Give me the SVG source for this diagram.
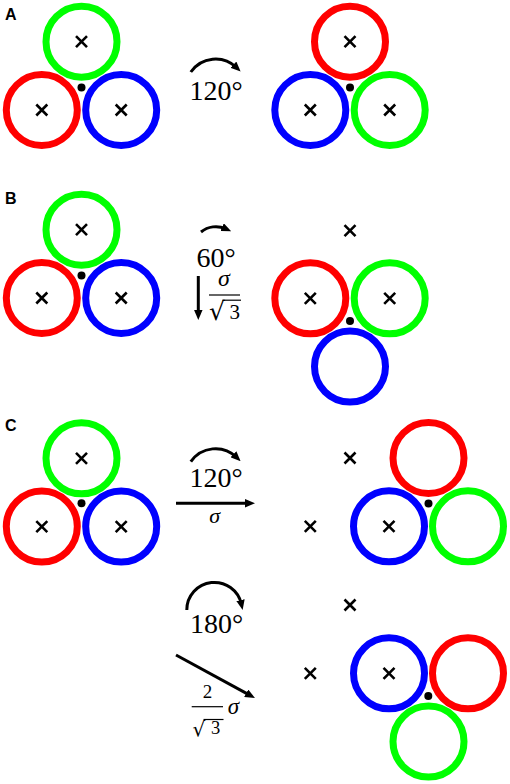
<svg xmlns="http://www.w3.org/2000/svg" xmlns:xlink="http://www.w3.org/1999/xlink" width="510" height="784" viewBox="0 0 510 784">
<style>
.c{fill:none;stroke-width:7}
.r{stroke:#ff0000}.g{stroke:#00ff00}.b{stroke:#0000ff}
.lbl{font-family:"Liberation Sans",Arial,sans-serif;font-weight:bold;font-size:16px;fill:#000}
.m{font-family:"Liberation Serif","Times New Roman",serif;fill:#000}
.rad{font-family:"DejaVu Serif",serif;fill:#000}
.ang{font-size:28px;text-anchor:middle}
.sig{font-style:italic;text-anchor:middle}
.ar{fill:none;stroke:#000;stroke-width:3;marker-end:url(#ah)}
.bar{stroke:#000;stroke-width:1.2}
</style>
<defs>
<marker id="ah" viewBox="0 0 10 8.5" refX="4" refY="4.25" markerWidth="10" markerHeight="8.5" markerUnits="userSpaceOnUse" orient="auto">
<path d="M0,0 L10,4.25 L0,8.5 z" fill="#000"/>
</marker>
<path id="x" d="M-5.5,-5.5 L5.5,5.5 M-5.5,5.5 L5.5,-5.5" stroke="#000" stroke-width="2.6" fill="none"/>
</defs>
<rect width="510" height="784" fill="#fff"/>

<text class="lbl" x="5" y="19.5">A</text>
<text class="lbl" x="5" y="203.5">B</text>
<text class="lbl" x="5" y="431">C</text>

<g id="A-left">
<circle class="c g" cx="81.5" cy="41.7" r="35.5"/>
<circle class="c r" cx="41.8" cy="110" r="35.5"/>
<circle class="c b" cx="121.2" cy="110" r="35.5"/>
<use xlink:href="#x" x="81.5" y="41.7"/>
<use xlink:href="#x" x="41.8" y="110"/>
<use xlink:href="#x" x="121.2" y="110"/>
<circle cx="81.5" cy="87.4" r="4" fill="#000"/>
</g>
<g id="A-right">
<circle class="c r" cx="350" cy="41.7" r="35.5"/>
<circle class="c b" cx="310.3" cy="110" r="35.5"/>
<circle class="c g" cx="389.7" cy="110" r="35.5"/>
<use xlink:href="#x" x="350" y="41.7"/>
<use xlink:href="#x" x="310.3" y="110"/>
<use xlink:href="#x" x="389.7" y="110"/>
<circle cx="350" cy="87.4" r="4" fill="#000"/>
</g>

<g id="B-left">
<circle class="c g" cx="81.5" cy="229.7" r="35.5"/>
<circle class="c r" cx="41.8" cy="298" r="35.5"/>
<circle class="c b" cx="121.2" cy="298" r="35.5"/>
<use xlink:href="#x" x="81.5" y="229.7"/>
<use xlink:href="#x" x="41.8" y="298"/>
<use xlink:href="#x" x="121.2" y="298"/>
<circle cx="81.5" cy="275.5" r="4" fill="#000"/>
</g>
<g id="B-right">
<use xlink:href="#x" x="350" y="230.7"/>
<circle class="c r" cx="310.3" cy="298.3" r="35.5"/>
<circle class="c g" cx="389.7" cy="298.3" r="35.5"/>
<circle class="c b" cx="350" cy="366.6" r="35.5"/>
<use xlink:href="#x" x="310.3" y="298.3"/>
<use xlink:href="#x" x="389.7" y="298.3"/>
<circle cx="350" cy="321" r="4" fill="#000"/>
</g>

<g id="C-left">
<circle class="c g" cx="81.5" cy="458.3" r="35.5"/>
<circle class="c r" cx="41.8" cy="526.6" r="35.5"/>
<circle class="c b" cx="121.2" cy="526.6" r="35.5"/>
<use xlink:href="#x" x="81.5" y="458.3"/>
<use xlink:href="#x" x="41.8" y="526.6"/>
<use xlink:href="#x" x="121.2" y="526.6"/>
<circle cx="81.5" cy="503.3" r="4" fill="#000"/>
</g>
<g id="C-right-1">
<use xlink:href="#x" x="350" y="458"/>
<use xlink:href="#x" x="310.3" y="526.3"/>
<circle class="c r" cx="428.5" cy="458" r="35.5"/>
<circle class="c b" cx="389" cy="526.3" r="35.5"/>
<circle class="c g" cx="468" cy="526.3" r="35.5"/>
<use xlink:href="#x" x="389" y="526.3"/>
<circle cx="428.5" cy="503.4" r="4" fill="#000"/>
</g>
<g id="C-right-2">
<use xlink:href="#x" x="350" y="605"/>
<use xlink:href="#x" x="310.3" y="673.3"/>
<circle class="c b" cx="389" cy="673.3" r="35.5"/>
<circle class="c r" cx="468" cy="673.3" r="35.5"/>
<circle class="c g" cx="428.5" cy="741.6" r="35.5"/>
<use xlink:href="#x" x="389" y="673.3"/>
<circle cx="428.3" cy="696" r="4" fill="#000"/>
</g>

<g id="connectors">
<path class="ar" d="M190.8,72 A30,30 0 0 1 236.3,67.4"/>
<path class="ar" d="M201,232 A23.6,23.6 0 0 1 225.7,228.8"/>
<line class="ar" x1="198.3" y1="276" x2="198.3" y2="314"/>
<path class="ar" d="M190.8,461.7 A30,30 0 0 1 236.3,457.1"/>
<line class="ar" x1="176" y1="503.3" x2="249" y2="503.3"/>
<path class="ar" d="M186.8,610 A27.6,27.6 0 0 1 241.35,604.05"/>
<line class="ar" x1="176" y1="655" x2="249.7" y2="695.1"/>
</g>

<g id="labels">
<text class="m ang" x="216" y="100">120°</text>
<text class="m ang" x="216" y="266.5">60°</text>
<text class="m sig" x="224" y="285.5" font-size="24">σ</text>
<line class="bar" x1="209" y1="295" x2="240" y2="295"/>
<text class="rad" x="209" y="320" font-size="25">√</text>
<line class="bar" x1="222.5" y1="300.2" x2="241" y2="300.2"/>
<text class="m" x="229.5" y="319.3" font-size="21">3</text>
<text class="m ang" x="216" y="486.7">120°</text>
<text class="m sig" x="214.7" y="523" font-size="22">σ</text>
<text class="m ang" x="216.5" y="633">180°</text>
<text class="m" x="207.5" y="698" font-size="19" text-anchor="middle">2</text>
<line class="bar" x1="191.7" y1="706.7" x2="223" y2="706.7"/>
<text class="rad" x="192.5" y="735.5" font-size="20">√</text>
<line class="bar" x1="203.5" y1="719.5" x2="223.5" y2="719.5"/>
<text class="m" x="211" y="733.5" font-size="18.5">3</text>
<text class="m sig" x="233.5" y="713.5" font-size="23">σ</text>
</g>
</svg>
